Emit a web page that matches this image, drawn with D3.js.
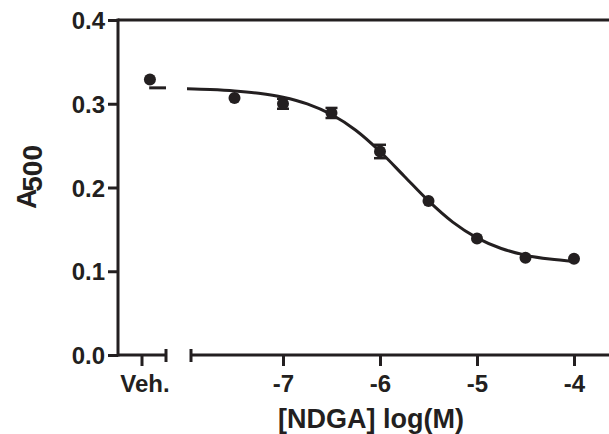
<!DOCTYPE html>
<html>
<head>
<meta charset="utf-8">
<script src="https://cdn.jsdelivr.net/npm/d3@7"></script>
<style>
  html, body { margin: 0; padding: 0; background: #fff; }
  svg { display: block; }
  text { font-family: "Liberation Sans", Arial, Helvetica, sans-serif; font-weight: bold; fill: #231f20; }
</style>
</head>
<body>
<div id="chart"></div>
<script>
// ---- data ----
const logConc   = [-7.5, -7, -6.5, -6, -5.5, -5, -4.5, -4];
const meanA500  = [0.307, 0.300, 0.289, 0.243, 0.184, 0.139, 0.116, 0.115];
const semA500   = [0, 0.006, 0.006, 0.008, 0, 0, 0, 0];
const vehicleX  = -9.67;   // position of vehicle point within the "Veh." axis segment
const vehicleY  = 0.329;
// fitted curve
const curveX = [-8, -7.75, -7.5, -7.25, -7, -6.75, -6.5, -6.25, -6, -5.75, -5.5, -5.25, -5, -4.75, -4.5, -4.25, -4];
const curveY = [0.3178, 0.3169, 0.3153, 0.3125, 0.3078, 0.2998, 0.2871, 0.2683, 0.2430, 0.2135, 0.1840, 0.1587, 0.1399, 0.1272, 0.1192, 0.1145, 0.1117];
const vehCurveX = [-9.7, -9];
const vehCurveY = [0.319, 0.319];
const yTicks = [0, 0.1, 0.2, 0.3, 0.4];
const yTickLabels = ["0.0", "0.1", "0.2", "0.3", "0.4"];
const xTicks = [-7, -6, -5, -4];
const vehLabel = "Veh.";
const xTitle = "[NDGA] log(M)";

// ---- layout ----
const W = 609, H = 434;
const ink = "#231f20";
const svg = d3.select("#chart").append("svg").attr("width", W).attr("height", H);

const y = d3.scaleLinear().domain([0, 0.4]).range([355, 20]);
const x = d3.scaleLinear().domain([-7, -4]).range([283, 574]);
const xv = d3.scaleLinear().domain([-11, -9]).range([118, 166]);
const mainStart = x.invert(191), mainEnd = x.invert(609);
const axisY = y(0);

svg.append("clipPath").attr("id", "clipMain").append("rect")
  .attr("x", 187).attr("y", 0).attr("width", W - 187).attr("height", H);

// ---- Y axis ----
const yAxis = d3.axisLeft(y).tickValues(yTicks)
  .tickFormat((d, i) => yTickLabels[i]).tickSize(10).tickPadding(3);
const gy = svg.append("g").attr("transform", `translate(${xv(-11)},0)`).call(yAxis);
gy.select(".domain").remove();
gy.selectAll(".tick line").attr("stroke", ink).attr("stroke-width", 3);
gy.selectAll(".tick text").style("font-size", "24px").attr("fill", ink).attr("dy", "0.36em");
svg.append("line").attr("x1", xv(-11)).attr("x2", xv(-11))
  .attr("y1", y(0.4) - 1.5).attr("y2", axisY + 1.5)
  .attr("stroke", ink).attr("stroke-width", 3);
svg.append("line").attr("x1", xv(-11)).attr("x2", x(mainEnd))
  .attr("y1", y(0.4)).attr("y2", y(0.4))
  .attr("stroke", ink).attr("stroke-width", 3);

// ---- X axis: vehicle segment ----
svg.append("line").attr("x1", xv(-11)).attr("x2", xv(-9))
  .attr("y1", axisY).attr("y2", axisY).attr("stroke", ink).attr("stroke-width", 3);
svg.append("line").attr("x1", xv(-9)).attr("x2", xv(-9))
  .attr("y1", axisY - 6).attr("y2", axisY + 7).attr("stroke", ink).attr("stroke-width", 3);
svg.append("line").attr("x1", xv(-10)).attr("x2", xv(-10))
  .attr("y1", axisY).attr("y2", axisY + 11).attr("stroke", ink).attr("stroke-width", 3);
svg.append("text").attr("x", xv(-10) + 3).attr("y", axisY + 37)
  .attr("text-anchor", "middle").style("font-size", "24px").text(vehLabel);

// ---- X axis: main segment ----
const xAxis = d3.axisBottom(x).tickValues(xTicks).tickSize(11).tickPadding(9)
  .tickFormat(d3.format("d"));
const gx = svg.append("g").attr("transform", `translate(0,${axisY})`).call(xAxis);
gx.select(".domain").remove();
gx.selectAll(".tick line").attr("stroke", ink).attr("stroke-width", 3);
gx.selectAll(".tick text").style("font-size", "24px").attr("fill", ink)
  .text(d => "-" + Math.abs(d));
svg.append("line").attr("x1", x(mainStart)).attr("x2", x(mainEnd))
  .attr("y1", axisY).attr("y2", axisY).attr("stroke", ink).attr("stroke-width", 3);
svg.append("line").attr("x1", x(mainStart)).attr("x2", x(mainStart))
  .attr("y1", axisY - 6).attr("y2", axisY + 7).attr("stroke", ink).attr("stroke-width", 3);

// ---- titles ----
svg.append("text").attr("x", 371).attr("y", 428).attr("text-anchor", "middle")
  .style("font-size", "27px").text(xTitle);
const yt = svg.append("text")
  .attr("transform", "translate(36,177) rotate(-90)")
  .attr("text-anchor", "middle").style("font-size", "28px");
yt.append("tspan").text("A");
yt.append("tspan").attr("dy", 6).attr("dx", -3).text("500");

// ---- curve ----
const line = d3.line().x(d => x(d[0])).y(d => y(d[1])).curve(d3.curveMonotoneX);
svg.append("path").datum(curveX.map((v, i) => [v, curveY[i]]))
  .attr("clip-path", "url(#clipMain)")
  .attr("d", line).attr("fill", "none").attr("stroke", ink).attr("stroke-width", 3);
const vline = d3.line().x(d => xv(d[0])).y(d => y(d[1]));
svg.append("path").datum(vehCurveX.map((v, i) => [v, vehCurveY[i]]))
  .attr("d", vline).attr("fill", "none").attr("stroke", ink).attr("stroke-width", 3);

// ---- error bars ----
const eb = svg.append("g");
logConc.forEach((c, i) => {
  const s = semA500[i];
  if (s <= 0) return;
  const cx = x(c), y1 = y(meanA500[i] + s), y2 = y(meanA500[i] - s);
  eb.append("line").attr("x1", cx).attr("x2", cx).attr("y1", y1).attr("y2", y2)
    .attr("stroke", ink).attr("stroke-width", 2);
  [y1, y2].forEach(yy => eb.append("line").attr("x1", cx - 6).attr("x2", cx + 6)
    .attr("y1", yy).attr("y2", yy).attr("stroke", ink).attr("stroke-width", 2.5));
});

// ---- points ----
svg.append("g").selectAll("circle").data(logConc).join("circle")
  .attr("cx", d => x(d)).attr("cy", (d, i) => y(meanA500[i])).attr("r", 6).attr("fill", ink);
svg.append("circle").attr("cx", xv(vehicleX)).attr("cy", y(vehicleY)).attr("r", 6).attr("fill", ink);
</script>
</body>
</html>
